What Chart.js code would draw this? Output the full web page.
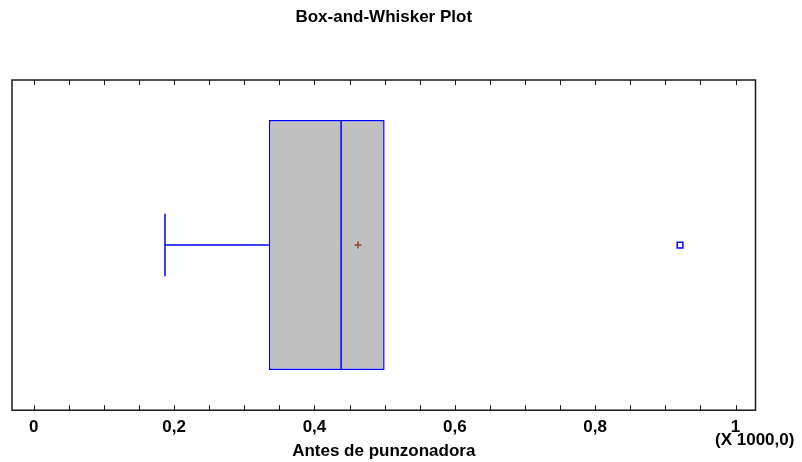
<!DOCTYPE html>
<html>
<head>
<meta charset="utf-8">
<title>Box-and-Whisker Plot</title>
<script src="https://cdn.jsdelivr.net/npm/chart.js@4.4.1/dist/chart.umd.min.js"></script>
<style>
  html, body { margin: 0; padding: 0; background: #fff; }
  #wrap { width: 802px; height: 462px; }
</style>
</head>
<body>
<div id="wrap"><canvas id="chart-box"></canvas></div>
<script>
// ---- data (values in units of 1000) ----
const categories = ['Antes de punzonadora'];
const whiskerMin = [187];
const quartile1 = [335];
const median = [438];
const quartile3 = [500];
const meanValue = [462];
const outliers = [921];

// ---- axis ----
const axisMin = -31;
const axisMax = 1028.5;
const minorTicks = [0, 50, 100, 150, 200, 250, 300, 350, 400, 450, 500,
  550, 600, 650, 700, 750, 800, 850, 900, 950, 1000];
const majorTicks = [0, 200, 400, 600, 800, 1000];
const tickLabels = ['0', '0,2', '0,4', '0,6', '0,8', '1'];

const FONT = 'Liberation Sans, Arial, sans-serif';
const BLUE = '#0000ff';

// frame, inward ticks, whisker, median, scale multiplier
const boxExtras = {
  id: 'boxExtras',
  afterDatasetsDraw(chart) {
    const { ctx, chartArea: a, scales } = chart;
    const x = scales.x, y = scales.y;
    const bar = chart.getDatasetMeta(2).data[0];

    ctx.save();
    // whiskers + median
    categories.forEach((c, i) => {
      const yc = y.getPixelForValue(i);
      const half = bar ? bar.height / 2 : 120;
      const cap = half / 4;
      ctx.strokeStyle = BLUE;
      ctx.lineWidth = 1.5;
      ctx.beginPath();
      ctx.moveTo(x.getPixelForValue(whiskerMin[i]), yc);
      ctx.lineTo(x.getPixelForValue(quartile1[i]), yc);
      ctx.moveTo(x.getPixelForValue(whiskerMin[i]), yc - cap);
      ctx.lineTo(x.getPixelForValue(whiskerMin[i]), yc + cap);
      ctx.moveTo(x.getPixelForValue(median[i]), yc - half);
      ctx.lineTo(x.getPixelForValue(median[i]), yc + half);
      ctx.stroke();
    });

    // frame
    ctx.strokeStyle = '#1a1a1a';
    ctx.lineWidth = 1.5;
    ctx.strokeRect(a.left, a.top, a.right - a.left, a.bottom - a.top);

    // inward ticks top and bottom
    ctx.lineWidth = 1;
    ctx.beginPath();
    minorTicks.forEach(v => {
      const px = Math.round(x.getPixelForValue(v)) + 0.5;
      ctx.moveTo(px, a.bottom);
      ctx.lineTo(px, a.bottom - 5);
      ctx.moveTo(px, a.top);
      ctx.lineTo(px, a.top + 5);
    });
    ctx.stroke();

    // multiplier note
    ctx.fillStyle = '#000';
    ctx.font = 'bold 17px ' + FONT;
    ctx.textAlign = 'left';
    ctx.textBaseline = 'middle';
    ctx.fillText('(X 1000,0)', 715, 440);
    ctx.restore();
  }
};

const canvas = document.getElementById('chart-box');
new Chart(canvas.getContext('2d'), {
  type: 'bar',
  data: {
    labels: categories,
    datasets: [
      {
        type: 'scatter',
        label: 'Mean',
        data: categories.map((c, i) => ({ x: meanValue[i], y: c })),
        pointStyle: 'cross',
        radius: 3.5,
        borderColor: '#8a4a25',
        borderWidth: 1.5,
        order: 1,
      },
      {
        type: 'scatter',
        label: 'Outliers',
        data: outliers.map(v => ({ x: v, y: categories[0] })),
        pointStyle: 'rect',
        radius: 4,
        borderColor: BLUE,
        backgroundColor: '#fff',
        borderWidth: 1.5,
        order: 1,
      },
      {
        type: 'bar',
        label: 'Box',
        indexAxis: 'y',
        data: categories.map((c, i) => [quartile1[i], quartile3[i]]),
        backgroundColor: '#c0c0c0',
        borderColor: BLUE,
        borderWidth: 1.5,
        borderSkipped: false,
        barPercentage: 0.757,
        categoryPercentage: 1,
        order: 2,
      }
    ]
  },
  options: {
    responsive: true,
    maintainAspectRatio: false,
    animation: false,
    layout: { padding: { left: 12, right: 46.5, top: 0, bottom: 0 } },
    scales: {
      x: {
        type: 'linear',
        offset: false,
        min: axisMin,
        max: axisMax,
        grid: { display: false, drawTicks: false, offset: false },
        border: { display: false },
        afterBuildTicks: scale => { scale.ticks = minorTicks.map(v => ({ value: v })); },
        ticks: {
          autoSkip: false,
          maxRotation: 0,
          padding: 7,
          color: '#000',
          font: { family: FONT, size: 17, weight: 'bold' },
          callback: value => {
            const k = majorTicks.indexOf(value);
            return k >= 0 ? tickLabels[k] : '';
          }
        },
        title: {
          display: true,
          text: categories[0],
          color: '#000',
          font: { family: FONT, size: 17, weight: 'bold' },
          padding: { top: -3, bottom: 0 }
        }
      },
      y: {
        type: 'category',
        labels: categories,
        display: false,
      }
    },
    plugins: {
      legend: { display: false },
      tooltip: { enabled: false },
      title: {
        display: true,
        text: 'Box-and-Whisker Plot',
        fullSize: false,
        color: '#000',
        font: { family: FONT, size: 17, weight: 'bold' },
        padding: { top: 7, bottom: 52.6 }
      }
    }
  },
  plugins: [boxExtras]
});
</script>
</body>
</html>
